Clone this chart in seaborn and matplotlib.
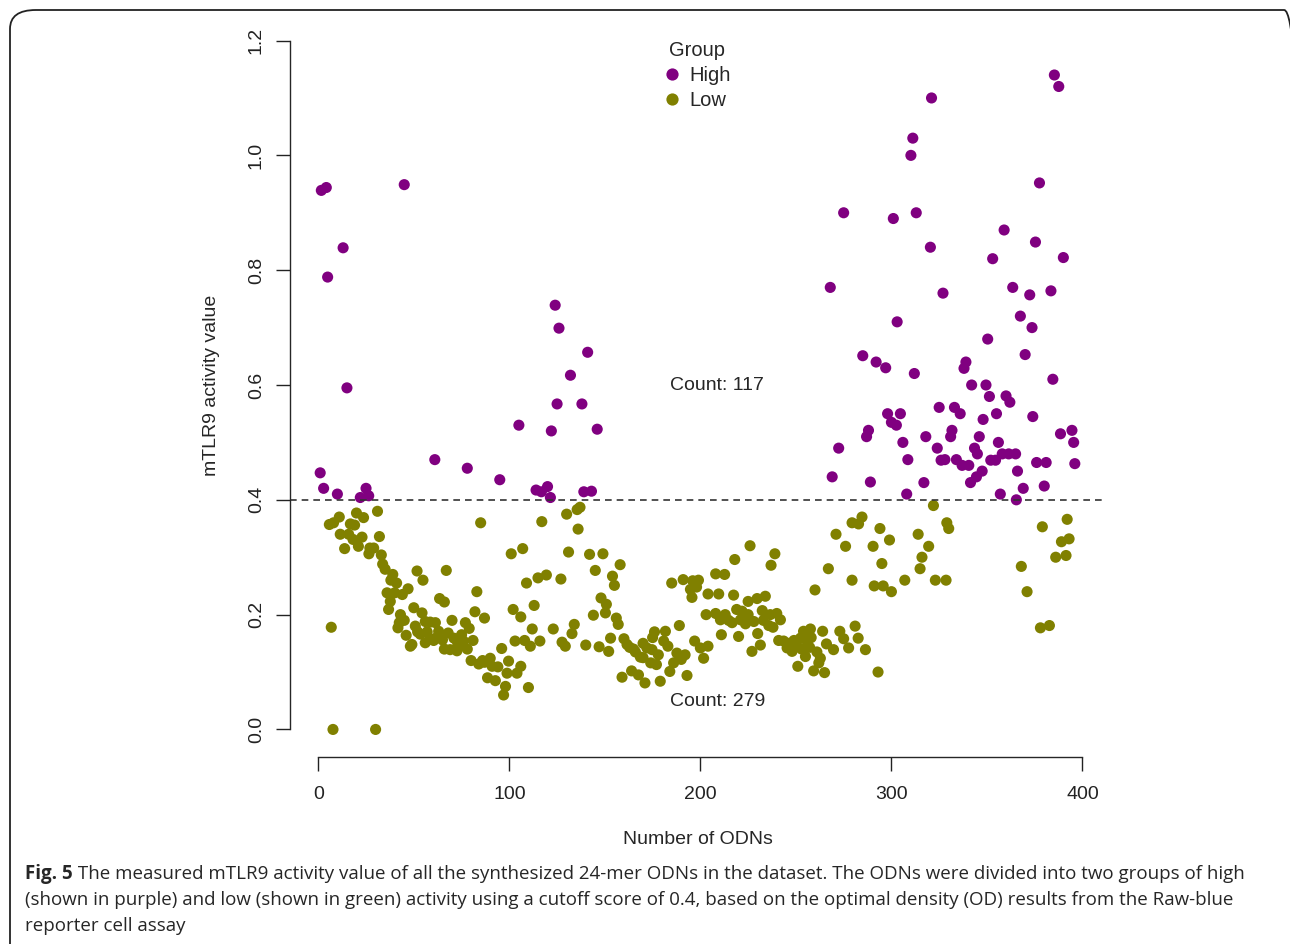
import matplotlib
matplotlib.use("Agg")
import matplotlib.pyplot as plt
import seaborn as sns
import pandas as pd
from matplotlib.patches import FancyBboxPatch

# ---------------- data ----------------
high_x = [1, 2.8, 10, 25, 22, 26.4, 61, 78, 95, 1.6, 4.2, 45, 13, 4.9, 15,
          105, 122, 146, 114, 116.8, 120, 121.5, 139, 143, 124, 126, 141, 132, 125, 138,
          298, 304.7, 302.6, 288, 287, 306, 308.6, 272.4, 269, 289, 308,
          325, 333, 336, 348, 355, 362, 374, 388.5, 394.5, 395.4, 396,
          318, 331.7, 331, 346, 356, 324, 343.5, 345, 326, 334, 337, 340.5,
          352, 354.5, 358, 361.4, 365, 376, 381, 347.5, 344.5, 341.4, 366, 317,
          357, 369, 380, 365.4,
          275, 301, 268, 303, 285, 292, 297, 385.3, 387.6, 321, 311.2, 310.2,
          377.5, 313, 320.4, 359, 375.4, 353, 390, 327, 363.5, 372.4, 383.5,
          367.5, 373.6, 350.4, 370, 339, 338, 312, 342, 349.5, 351.3, 360, 384.5,
          300, 328]
high_y = [0.447, 0.42, 0.41, 0.42, 0.404, 0.407, 0.47, 0.455, 0.435, 0.939, 0.944, 0.949, 0.839, 0.788, 0.595,
          0.53, 0.52, 0.523, 0.417, 0.414, 0.423, 0.404, 0.414, 0.415, 0.739, 0.699, 0.657, 0.617, 0.567, 0.567,
          0.55, 0.55, 0.53, 0.521, 0.51, 0.5, 0.47, 0.49, 0.44, 0.431, 0.41,
          0.561, 0.561, 0.55, 0.54, 0.55, 0.57, 0.545, 0.515, 0.521, 0.5, 0.463,
          0.51, 0.521, 0.51, 0.51, 0.5, 0.49, 0.49, 0.48, 0.469, 0.47, 0.46, 0.46,
          0.469, 0.469, 0.48, 0.48, 0.48, 0.465, 0.465, 0.45, 0.44, 0.43, 0.45, 0.43,
          0.41, 0.42, 0.424, 0.4,
          0.9, 0.89, 0.77, 0.71, 0.651, 0.64, 0.63, 1.14, 1.12, 1.1, 1.03, 1.0,
          0.952, 0.9, 0.84, 0.87, 0.849, 0.82, 0.822, 0.76, 0.77, 0.757, 0.764,
          0.72, 0.70, 0.68, 0.653, 0.64, 0.629, 0.62, 0.6, 0.6, 0.58, 0.581, 0.61,
          0.535, 0.47]

low_x = [5.8, 8, 11, 20, 23.7, 31, 16.8, 19, 11.5, 15.9, 18.2, 21, 22.9, 13.8, 27, 29, 26.5,
         32, 33, 33.7, 35, 39, 41, 36, 40, 37.7, 36.8, 44, 47, 51.7, 54.8, 67, 85, 6.8, 7.7, 30,
         50, 54.3, 63.5, 66, 83, 82, 87, 70, 42.4, 41.7, 46, 48.2, 49, 50.8, 53.4, 56, 58.6,
         61.3, 63, 56, 58.6, 60.4, 65, 68, 71, 69, 72.6, 74.3, 76, 77, 79, 81, 75, 80, 84, 87,
         90, 94, 96, 88.6, 92.7, 98, 97, 98.8, 99.6,
         130, 135.5, 137, 117, 136, 101, 107, 131, 142, 149, 145, 158, 154, 155, 109, 115,
         119.4, 127, 102, 106, 113, 112, 123, 134, 132.8, 148, 150.8, 150.3, 144, 156, 157,
         103, 108, 111, 116, 127.6, 129.3, 140, 147, 152, 153, 104, 110, 160, 161.6, 163,
         166, 168.6, 172, 174.7, 176, 181.7, 180.8, 178, 174, 177, 189, 187.7, 190, 186, 184,
         159, 164, 167.6, 171, 179, 193, 185, 191, 196, 194.8, 198, 195.6, 204, 203, 197,
         200, 201.7, 204,
         284.6, 279.4, 282.8, 294, 299, 271, 276, 290.4, 295, 267, 279.4, 291, 295.7, 300,
         307, 260, 226, 239, 237, 218, 208, 212.7, 209.6, 217.4, 225, 229.7, 234, 208,
         210.5, 214.8, 216.6, 219, 221.8, 221, 223.6, 228, 232.4, 236.6, 240, 241.9, 235.8,
         238, 211, 220, 230, 231.4, 227, 241, 243.6, 245.4, 248, 250.6, 252.4, 254, 257.6,
         255.8, 257.2, 255, 251, 261, 262.8, 262, 259.3, 265, 264, 266, 269.7, 273, 275,
         277.6, 281, 282.6, 286.4, 293,
         322, 329, 330, 314, 319.5, 316, 315, 323, 328.6, 379, 392, 389, 393, 386, 391.4,
         368, 371, 378, 382.7,
         38, 43, 45, 52, 57, 62, 66, 73, 78, 86, 91, 106, 165, 170, 183, 192, 246, 249,
         253, 258, 225, 213, 233, 170, 175, 199]
low_y = [0.357, 0.36, 0.37, 0.377, 0.369, 0.38, 0.358, 0.356, 0.34, 0.34, 0.331, 0.319, 0.335, 0.315, 0.316, 0.316, 0.306,
         0.336, 0.304, 0.288, 0.279, 0.27, 0.255, 0.238, 0.238, 0.223, 0.209, 0.235, 0.245, 0.276, 0.26, 0.277, 0.36, 0.178, 0.0, 0.0,
         0.212, 0.203, 0.228, 0.222, 0.24, 0.205, 0.194, 0.19, 0.186, 0.177, 0.164, 0.145, 0.148, 0.18, 0.166, 0.188, 0.187,
         0.186, 0.171, 0.151, 0.158, 0.155, 0.156, 0.168, 0.159, 0.139, 0.137, 0.145, 0.154, 0.186, 0.176, 0.155, 0.165, 0.12, 0.114, 0.117,
         0.124, 0.109, 0.141, 0.09, 0.085, 0.075, 0.06, 0.098, 0.119,
         0.375, 0.383, 0.387, 0.362, 0.349, 0.306, 0.315, 0.309, 0.305, 0.306, 0.277, 0.287, 0.267, 0.251, 0.255, 0.264,
         0.269, 0.262, 0.209, 0.196, 0.216, 0.175, 0.175, 0.183, 0.167, 0.229, 0.218, 0.203, 0.199, 0.194, 0.183,
         0.154, 0.155, 0.145, 0.154, 0.152, 0.145, 0.147, 0.144, 0.136, 0.159, 0.098, 0.073, 0.158, 0.148, 0.143,
         0.135, 0.126, 0.142, 0.139, 0.17, 0.171, 0.154, 0.13, 0.116, 0.113, 0.181, 0.133, 0.122, 0.116, 0.101,
         0.091, 0.102, 0.095, 0.081, 0.084, 0.094, 0.255, 0.261, 0.259, 0.244, 0.248, 0.23, 0.236, 0.2, 0.154,
         0.142, 0.124, 0.145,
         0.37, 0.36, 0.358, 0.35, 0.33, 0.34, 0.319, 0.319, 0.289, 0.28, 0.26, 0.25, 0.25, 0.24,
         0.26, 0.243, 0.32, 0.306, 0.286, 0.296, 0.271, 0.27, 0.236, 0.234, 0.223, 0.228, 0.232, 0.202,
         0.191, 0.19, 0.186, 0.209, 0.206, 0.191, 0.184, 0.188, 0.207, 0.2, 0.202, 0.191, 0.181,
         0.178, 0.165, 0.162, 0.167, 0.147, 0.136, 0.155, 0.154, 0.142, 0.136, 0.145, 0.159, 0.171, 0.175,
         0.154, 0.143, 0.127, 0.11, 0.135, 0.124, 0.116, 0.102, 0.099, 0.171, 0.149, 0.139, 0.171, 0.158,
         0.142, 0.18, 0.159, 0.139, 0.1,
         0.39, 0.36, 0.35, 0.34, 0.319, 0.3, 0.28, 0.26, 0.26, 0.353, 0.366, 0.327, 0.332, 0.3, 0.303,
         0.284, 0.24, 0.177, 0.181,
         0.26, 0.2, 0.19, 0.17, 0.17, 0.16, 0.14, 0.15, 0.14, 0.12, 0.11, 0.11, 0.14, 0.125, 0.145, 0.13, 0.15, 0.155,
         0.14, 0.16, 0.2, 0.2, 0.19, 0.15, 0.16, 0.26]

groups = ["High", "Low"]
colors = {"High": "#800080", "Low": "#808000"}
cutoff = 0.4
x_ticks = [0, 100, 200, 300, 400]
y_ticks = [0.0, 0.2, 0.4, 0.6, 0.8, 1.0, 1.2]
x_label = "Number of ODNs"
y_label = "mTLR9 activity value"
count_labels = ["Count: 117", "Count: 279"]
caption_bold = "Fig. 5"
caption_lines = [
    " The measured mTLR9 activity value of all the synthesized 24-mer ODNs in the dataset. The ODNs were divided into two groups of high",
    "(shown in purple) and low (shown in green) activity using a cutoff score of 0.4, based on the optimal density (OD) results from the Raw-blue",
    "reporter cell assay",
]

df = pd.DataFrame({
    "x": high_x + low_x,
    "y": high_y + low_y,
    "Group": ["High"] * len(high_x) + ["Low"] * len(low_x),
})

# ---------------- figure ----------------
sns.set_style("ticks")
plt.rcParams["font.family"] = ["Liberation Sans", "DejaVu Sans"]

W, H = 1290, 944
fig = plt.figure(figsize=(W / 100, H / 100), dpi=100)
L, R, T, B = 290, 1105, 13, 757
ax = fig.add_axes([L / W, 1 - B / H, (R - L) / W, (B - T) / H])

sns.scatterplot(data=df, x="x", y="y", hue="Group", hue_order=groups, palette=colors,
                s=64, linewidth=0, ax=ax, legend=True)

ax.set_xlim(-14.8, 411.8)
ax.set_ylim(-0.048, 1.248)
ax.axhline(cutoff, color="#333333", linestyle=(0, (4, 3)), linewidth=1.2)

for s in ["top", "right"]:
    ax.spines[s].set_visible(False)
ax.spines["left"].set_bounds(0, 1.2)
ax.spines["bottom"].set_bounds(0, 400)
ax.spines["left"].set_linewidth(1.0)
ax.spines["bottom"].set_linewidth(1.0)
ax.set_xticks(x_ticks)
ax.set_yticks(y_ticks)
ax.set_xticklabels([str(v) for v in x_ticks])
ax.set_yticklabels([f"{v:.1f}" for v in y_ticks], rotation=90, va="center")
ax.tick_params(axis="both", length=10, width=1.0, labelsize=14, colors="#222222", pad=8)
ax.tick_params(axis="x", pad=11)
ax.set_xlabel(x_label, fontsize=14, labelpad=20)
ax.set_ylabel(y_label, fontsize=14, labelpad=20)

ax.text(184, 0.599, count_labels[0], fontsize=14, ha="left", va="center")
ax.text(184, 0.049, count_labels[1], fontsize=14, ha="left", va="center")

leg = ax.legend(title="Group", loc="upper center", bbox_to_anchor=(0.499, 0.99),
                frameon=False, fontsize=14.5, title_fontsize=14.5, handletextpad=0.35,
                labelspacing=0.3, borderaxespad=0, borderpad=1.0, handlelength=1.0,
                markerscale=1.1)

# outer rounded frame
frame = FancyBboxPatch((10 / W, -0.05), (W + 20) / W - 10 / W, 1.05 - 10 / H,
                       boxstyle="round,pad=0,rounding_size=0.02",
                       transform=fig.transFigure, fill=False, edgecolor="#222222",
                       linewidth=1.3, clip_on=False)
fig.patches.append(frame)

# caption
cap_font = ["Open Sans", "DejaVu Sans"]
fig.canvas.draw()
renderer = fig.canvas.get_renderer()
y0 = 1 - 874 / H
t_bold = fig.text(25 / W, y0, caption_bold, fontsize=13.5, fontweight="bold",
                  family=cap_font, va="center", ha="left")
bb = t_bold.get_window_extent(renderer=renderer)
fig.text(bb.x1 / W, y0, caption_lines[0], fontsize=13.5, family=cap_font, va="center", ha="left")
fig.text(25 / W, 1 - 900 / H, caption_lines[1], fontsize=13.5, family=cap_font, va="center", ha="left")
fig.text(25 / W, 1 - 926 / H, caption_lines[2], fontsize=13.5, family=cap_font, va="center", ha="left")

fig.savefig("out.png", dpi=100, facecolor="white")
